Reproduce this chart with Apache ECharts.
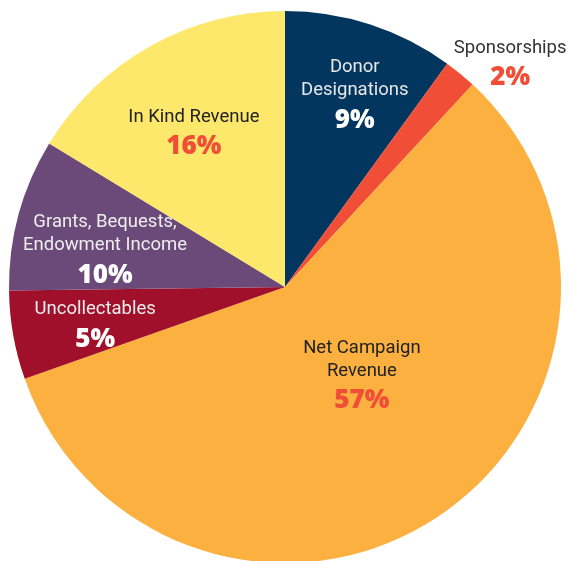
<!DOCTYPE html>
<html>
<head>
<meta charset="utf-8">
<script src="https://cdn.jsdelivr.net/npm/echarts@6/dist/echarts.min.js"></script>
<style>
html,body{margin:0;padding:0;background:#fff;}
#chart{width:571px;height:561px;}
</style>
</head>
<body>
<div id="chart"></div>
<script>
// ---- data ----
var categories = ['Donor\nDesignations', 'Sponsorships', 'Net Campaign\nRevenue', 'Uncollectables', 'Grants, Bequests,\nEndowment Income', 'In Kind Revenue'];
var sliceValues = [10, 1.9, 57.7, 5.2, 8.9, 16.3];
// percentages as printed on the chart
var pctLabels = ['9%', '2%', '57%', '5%', '10%', '16%'];

// ---- styles ----
var sliceColors = ['#02365e', '#f04e37', '#fbb040', '#a0102b', '#6b4a7a', '#fde86c'];
var nameColors = ['#e8e8e8', '#333333', '#222222', '#eeeeee', '#eeeeee', '#222222'];
var pctColors = ['#ffffff', '#f04e37', '#f04e37', '#ffffff', '#ffffff', '#f04e37'];
// label anchor in polar form: [angle deg clockwise from top, fraction of radius]
var labelAnchors = [[19.7, 0.75], [44.9, 1.156], [138.2, 0.418], [259.3, 0.70], [282.5, 0.668], [329.9, 0.658]];
var CX = 285, CY = 287, R = 276, LABEL_DY = 5;

var chart = echarts.init(document.getElementById('chart'));

var data = categories.map(function (c, i) {
  var nameRich = c.split('\n').map(function (l) { return '{n' + i + '|' + l + '}'; }).join('\n');
  return {
    name: c,
    value: sliceValues[i],
    itemStyle: { color: sliceColors[i] },
    label: {
      formatter: nameRich + '\n{v' + i + '|' + pctLabels[i] + '}'
    }
  };
});

var rich = {};
for (var i = 0; i < categories.length; i++) {
  rich['n' + i] = { fontFamily: 'Roboto', fontSize: 18.5, lineHeight: 23, color: nameColors[i], align: 'center' };
  rich['v' + i] = { fontFamily: 'Open Sans', fontWeight: 800, fontSize: 26, lineHeight: 36, color: pctColors[i], align: 'center' };
}

chart.setOption({
  animation: false,
  series: [{
    type: 'pie',
    center: [CX, CY],
    radius: R,
    startAngle: 90,
    clockwise: true,
    avoidLabelOverlap: false,
    silent: true,
    label: {
      show: true,
      position: 'inside',
      align: 'center',
      verticalAlign: 'middle',
      rich: rich
    },
    labelLine: { show: false },
    labelLayout: function (p) {
      var a = labelAnchors[p.dataIndex];
      var ang = a[0] * Math.PI / 180;
      return {
        x: CX + a[1] * R * Math.sin(ang),
        y: CY - a[1] * R * Math.cos(ang) + LABEL_DY,
        align: 'center',
        verticalAlign: 'middle'
      };
    },
    data: data
  }]
});
</script>
</body>
</html>
